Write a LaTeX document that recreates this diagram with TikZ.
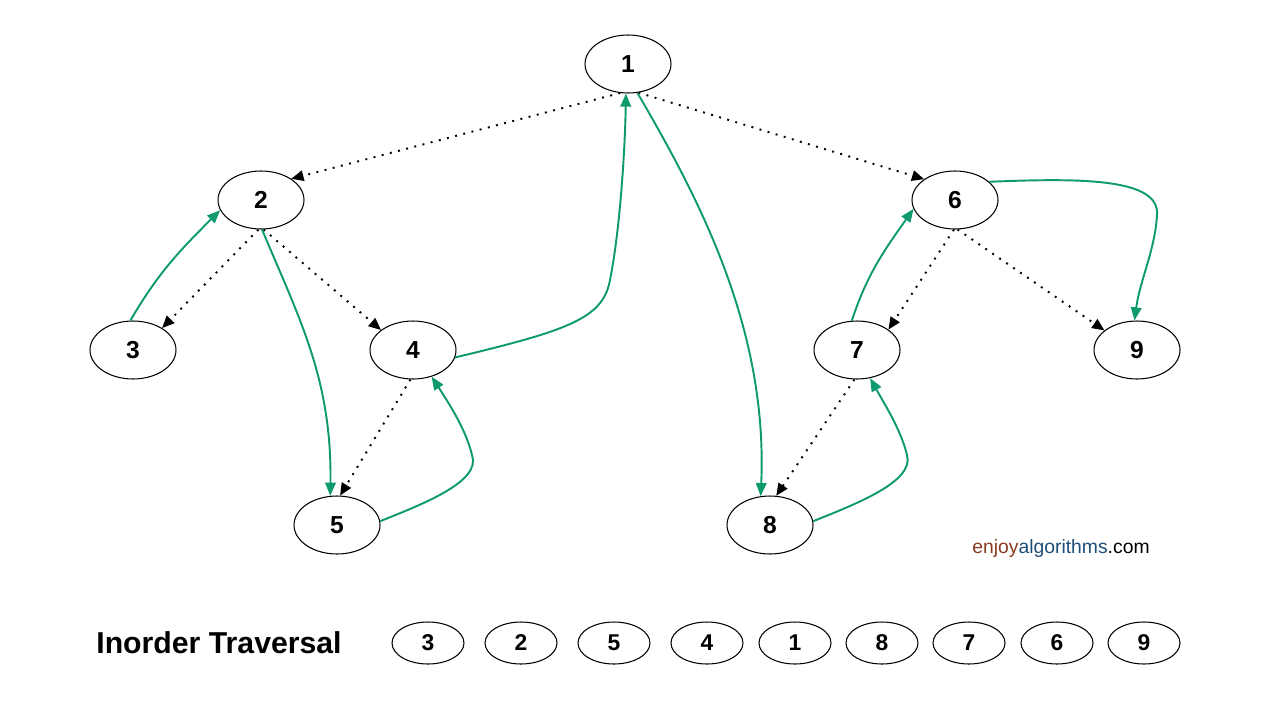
\documentclass[tikz,border=0pt]{standalone}
\usepackage{fontspec}
\setmainfont{Liberation Sans}
\usetikzlibrary{arrows.meta,shapes.geometric}
\definecolor{grn}{HTML}{0E9A6E}
\definecolor{enj}{HTML}{8B3A22}
\definecolor{alg}{HTML}{1F4E79}
\tikzset{
  tnode/.style={ellipse,draw=black,line width=0.6pt,minimum width=1.72cm,minimum height=1.16cm,inner sep=0pt,font=\fontsize{14}{16}\selectfont\bfseries},
  onode/.style={ellipse,draw=black,line width=0.6pt,minimum width=1.44cm,minimum height=0.84cm,inner sep=0pt,font=\fontsize{13}{15}\selectfont\bfseries},
  dotarrow/.style={line width=1.1pt,dash pattern=on 1.1pt off 3.7pt,-{Triangle[length=7pt,width=6pt]}},
  grarrow/.style={draw=grn,line width=1.1pt,-{Triangle[length=7.5pt,width=6pt,fill=grn]}}
}
\begin{document}
\begin{tikzpicture}[x=0.02cm,y=-0.02cm]
\useasboundingbox (0,0) rectangle (1280,720);
% tree nodes
\node[tnode] (n1) at (628,64) {1};
\node[tnode] (n2) at (261,200) {2};
\node[tnode] (n3) at (133,350) {3};
\node[tnode] (n4) at (413,350) {4};
\node[tnode] (n5) at (337,525) {5};
\node[tnode] (n6) at (955,200) {6};
\node[tnode] (n7) at (857,350) {7};
\node[tnode] (n9) at (1137,350) {9};
\node[tnode] (n8) at (770,525) {8};
% dotted edges
\draw[dotarrow] (n1.255) -- (n2.35);
\draw[dotarrow] (n1.290) -- (n6.146);
\draw[dotarrow] (n2.265) -- (n3.37);
\draw[dotarrow] (n2.275) -- (n4.148);
\draw[dotarrow] (n6.268) -- (n7.33);
\draw[dotarrow] (n6.275) -- (n9.149);
\draw[dotarrow] (n4.265) -- (n5.84);
\draw[dotarrow] (n7.265) -- (n8.78);
% green traversal arrows
\draw[grarrow] (n3.95) to[out=60,in=225] (n2.194);
\draw[grarrow] (n2.272) .. controls (300,320) and (332,380) .. (n5.103);
\draw[grarrow] (n5.5) .. controls (420,505) and (482,482) .. (472,455) .. controls (466,430) and (450,405) .. (n4.-55);
\draw[grarrow] (n4.350) .. controls (570,330) and (603,318) .. (610,280) .. controls (620,230) and (625,150) .. (n1.266);
\draw[grarrow] (n1.288) .. controls (700,200) and (768,330) .. (n8.108);
\draw[grarrow] (n8.5) .. controls (853,505) and (915,482) .. (907,455) .. controls (901,430) and (885,405) .. (n7.-65);
\draw[grarrow] (n7.100) to[out=72,in=235] (n6.192);
\draw[grarrow] (n6.28) .. controls (1080,178) and (1160,178) .. (1157,215) .. controls (1155,250) and (1140,280) .. (n9.95);
% watermark
\node[anchor=west,inner sep=0pt,font=\fontsize{11}{13}\selectfont] (wm) at (972,548) {\textcolor{enj}{enjoy}\textcolor{alg}{algorithms}.com};
% inorder row
\node[inner sep=0pt,font=\fontsize{17.2}{20}\selectfont\bfseries] (title) at (219,643) {Inorder Traversal};
\node[onode] (o1) at (428,643) {3};
\node[onode] (o2) at (521,643) {2};
\node[onode] (o3) at (614,643) {5};
\node[onode] (o4) at (707,643) {4};
\node[onode] (o5) at (795,643) {1};
\node[onode] (o6) at (882,643) {8};
\node[onode] (o7) at (969,643) {7};
\node[onode] (o8) at (1057,643) {6};
\node[onode] (o9) at (1144,643) {9};
\end{tikzpicture}
\end{document}
